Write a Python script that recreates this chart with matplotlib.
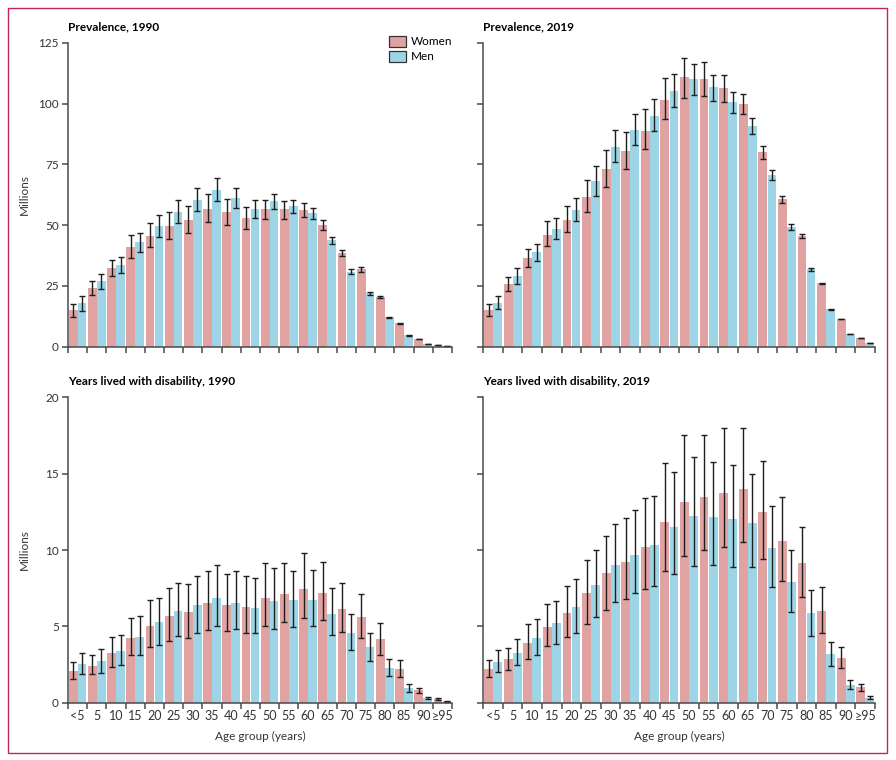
import numpy as np
import matplotlib
matplotlib.use("Agg")
import matplotlib.pyplot as plt
from matplotlib.patches import Rectangle, Patch

plt.rcParams['font.family'] = ['Lato', 'DejaVu Sans']

ageGroups = ["<5", "5", "10", "15", "20", "25", "30", "35", "40", "45",
             "50", "55", "60", "65", "70", "75", "80", "85", "90", "≥95"]

# prevalence 1990 (millions): value, upper, lower
prev1990Women = [15.1, 24.1, 32.3, 41.0, 45.5, 49.6, 52.1, 56.6, 55.4, 52.9,
                 56.6, 56.6, 56.2, 49.9, 38.4, 31.8, 20.4, 9.7, 3.2, 0.8]
prev1990WomenHi = [17.4, 27.0, 35.6, 46.1, 51.0, 55.4, 57.7, 62.9, 60.7, 57.3,
                   60.4, 59.8, 59.1, 51.9, 39.6, 32.6, 20.9, 9.9, 3.3, 0.9]
prev1990WomenLo = [12.3, 21.4, 28.9, 36.6, 41.0, 44.1, 46.6, 51.1, 50.2, 48.5,
                   52.4, 52.6, 53.2, 48.0, 37.3, 30.8, 19.9, 9.5, 3.1, 0.7]
prev1990Men = [18.0, 27.0, 33.6, 43.0, 49.6, 55.4, 60.3, 64.4, 61.1, 56.6,
               59.9, 57.8, 55.0, 43.9, 30.6, 21.9, 12.1, 4.7, 1.2, 0.4]
prev1990MenHi = [20.7, 29.9, 36.9, 46.9, 54.0, 60.4, 65.1, 69.2, 65.4, 60.3,
                 62.8, 60.4, 57.0, 45.1, 31.8, 22.3, 12.4, 4.8, 1.3, 0.45]
prev1990MenLo = [14.8, 23.8, 30.4, 38.8, 45.2, 50.7, 55.8, 60.0, 56.9, 53.0,
                 56.5, 55.0, 52.5, 42.1, 29.7, 21.4, 11.8, 4.6, 1.1, 0.35]

# prevalence 2019 (millions)
prev2019Women = [15.1, 25.8, 36.5, 45.9, 52.1, 61.5, 73.1, 80.5, 88.7, 101.4,
                 110.9, 110.1, 106.4, 99.8, 80.0, 60.7, 45.5, 26.0, 11.4, 3.6]
prev2019WomenHi = [17.5, 28.5, 40.0, 51.5, 57.7, 68.5, 80.9, 88.4, 97.6, 110.5,
                   118.9, 117.2, 111.8, 103.8, 82.5, 62.1, 46.2, 26.3, 11.6, 3.7]
prev2019WomenLo = [12.6, 22.9, 32.6, 41.3, 47.0, 55.4, 65.8, 73.2, 81.1, 93.6,
                   102.1, 102.9, 100.6, 95.5, 77.3, 59.1, 44.5, 25.7, 11.2, 3.5]
prev2019Men = [18.0, 29.1, 38.9, 48.2, 56.2, 68.1, 82.1, 89.1, 94.8, 105.1,
               110.1, 106.8, 100.6, 90.7, 70.6, 49.2, 31.9, 15.5, 5.3, 1.5]
prev2019MenHi = [20.8, 32.2, 42.4, 53.0, 61.3, 74.3, 89.2, 95.7, 101.7, 112.1,
                 116.1, 111.8, 104.9, 94.0, 72.6, 50.3, 32.5, 15.7, 5.4, 1.6]
prev2019MenLo = [15.4, 25.8, 35.1, 44.3, 51.7, 62.0, 76.1, 83.1, 88.5, 98.4,
                 103.5, 101.2, 95.9, 87.3, 68.5, 48.0, 31.2, 15.3, 5.2, 1.4]

# years lived with disability 1990 (millions)
yld1990Women = [2.07, 2.40, 3.25, 4.24, 5.02, 5.68, 5.94, 6.53, 6.40, 6.27,
                6.86, 7.12, 7.45, 7.18, 6.14, 5.61, 4.17, 2.21, 0.83, 0.26]
yld1990WomenHi = [2.64, 3.12, 4.32, 5.57, 6.70, 7.49, 7.77, 8.65, 8.45, 8.32,
                  9.13, 9.17, 9.78, 9.24, 7.82, 7.14, 5.22, 2.82, 0.98, 0.31]
yld1990WomenLo = [1.53, 1.86, 2.36, 3.10, 3.62, 4.04, 4.21, 4.74, 4.67, 4.56,
                  5.00, 5.31, 5.52, 5.41, 4.65, 4.21, 3.12, 1.68, 0.62, 0.18]
yld1990Men = [2.53, 2.73, 3.38, 4.30, 5.28, 6.00, 6.40, 6.86, 6.53, 6.20,
              6.66, 6.72, 6.72, 5.81, 4.56, 3.65, 2.27, 0.96, 0.31, 0.09]
yld1990MenHi = [3.23, 3.49, 4.45, 5.68, 6.88, 7.82, 8.32, 9.00, 8.60, 8.19,
                8.84, 8.62, 8.69, 7.49, 5.83, 4.56, 2.84, 1.24, 0.36, 0.11]
yld1990MenLo = [1.88, 1.97, 2.45, 3.12, 3.80, 4.37, 4.59, 5.02, 4.80, 4.54,
                4.85, 4.96, 5.00, 4.41, 3.45, 2.73, 1.75, 0.70, 0.23, 0.07]

# years lived with disability 2019 (millions)
yld2019Women = [2.21, 2.86, 3.91, 4.96, 5.87, 7.18, 8.49, 9.21, 10.20, 11.83,
                13.14, 13.47, 13.73, 14.00, 12.49, 10.59, 9.15, 6.00, 2.93, 1.03]
yld2019WomenHi = [2.82, 3.60, 5.17, 6.46, 7.66, 9.37, 10.94, 12.07, 13.43, 15.68,
                  17.53, 17.51, 17.99, 18.01, 15.81, 13.45, 11.51, 7.55, 3.65, 1.24]
yld2019WomenLo = [1.68, 2.14, 2.88, 3.69, 4.32, 5.17, 6.09, 6.77, 7.45, 8.62,
                  9.61, 9.98, 10.17, 10.55, 9.43, 7.97, 6.94, 4.54, 2.25, 0.79]
yld2019Men = [2.66, 3.25, 4.24, 5.22, 6.27, 7.71, 9.02, 9.67, 10.33, 11.51,
              12.23, 12.16, 12.03, 11.77, 10.13, 7.90, 5.87, 3.19, 1.16, 0.31]
yld2019MenHi = [3.43, 4.19, 5.46, 6.68, 8.08, 9.98, 11.68, 12.60, 13.54, 15.13,
                16.11, 15.74, 15.59, 15.00, 12.90, 9.98, 7.40, 4.00, 1.46, 0.41]
yld2019MenLo = [2.01, 2.47, 3.14, 3.86, 4.59, 5.59, 6.57, 7.16, 7.62, 8.43,
                8.97, 9.00, 8.91, 8.91, 7.60, 5.94, 4.39, 2.38, 0.87, 0.24]

prevTicks = [0, 25, 50, 75, 100, 125]
yldTicks = [0, 5, 10, 15, 20]

womenColor = '#E0A3A1'
menColor = '#9DD5E6'
axisColor = '#4a4a4a'


def drawPanel(ax, title, women, womenHi, womenLo, men, menHi, menLo, yTicks,
              showYLabels, showXLabels):
    x = np.arange(len(ageGroups))
    width = 0.45
    w = np.array(women)
    m = np.array(men)
    wErr = [w - np.array(womenLo), np.array(womenHi) - w]
    mErr = [m - np.array(menLo), np.array(menHi) - m]
    errStyle = dict(ecolor='#1e1e1e', elinewidth=1.0, capsize=2.2, capthick=1.0)
    ax.bar(x + 0.27, w, width, color=womenColor, yerr=wErr, error_kw=errStyle, zorder=2)
    ax.bar(x + 0.735, m, width, color=menColor, yerr=mErr, error_kw=errStyle, zorder=2)

    ax.set_xlim(0, len(ageGroups))
    ax.set_ylim(0, yTicks[-1])
    for side in ['top', 'right']:
        ax.spines[side].set_visible(False)
    for side in ['left', 'bottom']:
        ax.spines[side].set_color(axisColor)
        ax.spines[side].set_linewidth(1.1)

    # boundaries carry the tick marks, centres carry the labels
    ax.set_xticks(np.arange(len(ageGroups) + 1))
    ax.set_xticklabels([])
    ax.set_xticks(x + 0.5, minor=True)
    if showXLabels:
        ax.set_xticklabels(ageGroups, minor=True, fontsize=9, color='#333333')
        ax.set_xlabel('Age group (years)', fontsize=8.5, color='#333333')
        ax.xaxis.set_label_coords(0.5, -0.092)
    ax.tick_params(axis='x', which='major', direction='out', length=4.5, width=1.1, color=axisColor)
    ax.tick_params(axis='x', which='minor', length=0, pad=5)

    ax.set_yticks(yTicks)
    if showYLabels:
        ax.set_yticklabels([str(t) for t in yTicks], fontsize=8.5, color='#333333')
        ax.set_ylabel('Millions', fontsize=8.5, color='#333333')
        ax.yaxis.set_label_coords(-0.10, 0.5)
    else:
        ax.set_yticklabels([])
    ax.tick_params(axis='y', direction='out', length=4.5, width=1.1, color=axisColor, pad=2)

    ax.text(0.0, 1.033, title, transform=ax.transAxes, fontsize=8.5, fontweight='bold',
            ha='left', va='bottom')


fig = plt.figure(figsize=(8.96, 7.6), dpi=100)

axTL = fig.add_axes([0.0759, 0.5438, 0.4286, 0.4000])
axTR = fig.add_axes([0.5394, 0.5438, 0.4372, 0.4000])
axBL = fig.add_axes([0.0759, 0.0754, 0.4286, 0.4018])
axBR = fig.add_axes([0.5394, 0.0754, 0.4372, 0.4018])

drawPanel(axTL, 'Prevalence, 1990', prev1990Women, prev1990WomenHi, prev1990WomenLo,
          prev1990Men, prev1990MenHi, prev1990MenLo, prevTicks, True, False)
drawPanel(axTR, 'Prevalence, 2019', prev2019Women, prev2019WomenHi, prev2019WomenLo,
          prev2019Men, prev2019MenHi, prev2019MenLo, prevTicks, False, False)
drawPanel(axBL, 'Years lived with disability, 1990', yld1990Women, yld1990WomenHi, yld1990WomenLo,
          yld1990Men, yld1990MenHi, yld1990MenLo, yldTicks, True, True)
drawPanel(axBR, 'Years lived with disability, 2019', yld2019Women, yld2019WomenHi, yld2019WomenLo,
          yld2019Men, yld2019MenHi, yld2019MenLo, yldTicks, False, True)

handles = [Patch(facecolor=womenColor, edgecolor='#333333', linewidth=0.9, label='Women'),
           Patch(facecolor=menColor, edgecolor='#333333', linewidth=0.9, label='Men')]
axTL.legend(handles=handles, loc='upper right', bbox_to_anchor=(1.02, 1.045), frameon=False,
            fontsize=8.5, handlelength=1.5, handleheight=1.0, handletextpad=0.4,
            labelspacing=0.3, borderaxespad=0.2)

# thin frame round the whole figure
fig.patches.append(Rectangle((8 / 896, 1 - 753 / 760), 879 / 896, 745 / 760,
                             transform=fig.transFigure, fill=False,
                             edgecolor='#C3265A', linewidth=1.0))

fig.savefig('out.png', dpi=100)
